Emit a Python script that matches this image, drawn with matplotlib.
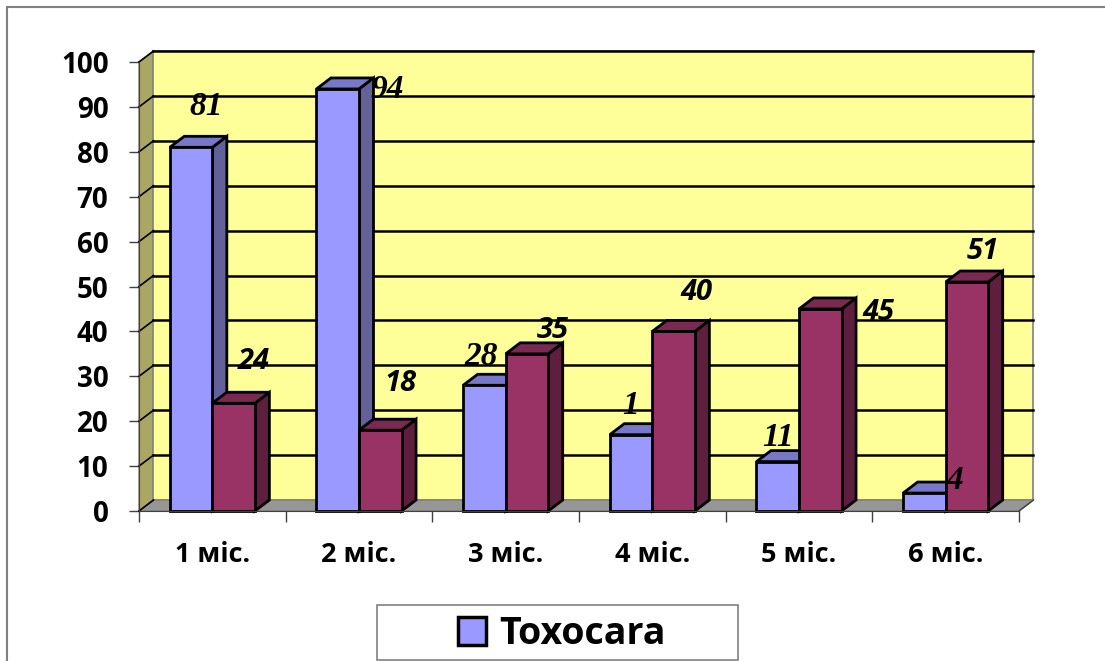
import matplotlib
matplotlib.use('Agg')
import matplotlib.pyplot as plt
from matplotlib.patches import Polygon, Rectangle, Patch
import numpy as np

categories = ['1 міс.', '2 міс.', '3 міс.', '4 міс.', '5 міс.', '6 міс.']
toxocara = [81, 94, 28, 17, 11, 4]
series2 = [24, 18, 35, 40, 45, 51]
toxocara_labels = ['81', '94', '28', '1', '11', '4']
series2_labels = ['24', '18', '35', '40', '45', '51']

# where excel put the data labels (x from category start, y from bar value)
tox_lab_dx = [0.46, 0.69, 0.33, 0.35, 0.36, 0.56]
tox_lab_dy = [9.0, -0.2, 6.3, 6.6, 5.3, 2.9]
s2_lab_dx = [0.78, 0.78, 0.82, 0.80, 1.04, 0.75]
s2_lab_dy = [9.2, 10.5, 5.3, 8.6, -0.7, 6.7]

SANS = 'Open Sans'

W, H = 1105, 661
fig = plt.figure(figsize=(W / 100, H / 100), dpi=100)
ax = fig.add_axes([139 / W, 1 - 511 / H, 880 / W, 449 / H])
ax.set_xlim(0, 6)
ax.set_ylim(0, 100)
ax.patch.set_visible(False)

# depth of the 3d box in data units
dx = 14.5 / 146.67
dy = 11 / 4.49
n = len(categories)

# walls and floor
ax.add_patch(Polygon([(0, 0), (dx, dy), (dx, 100 + dy), (0, 100)], closed=True,
                     facecolor='#AAA664', edgecolor='#808080', lw=1, clip_on=False, zorder=1))
ax.add_patch(Rectangle((dx, dy), n, 100, facecolor='#FFFF99', edgecolor='#808080',
                       lw=1.2, clip_on=False, zorder=1))
ax.add_patch(Polygon([(0, 0), (n, 0), (n + dx, dy), (dx, dy)], closed=True,
                     facecolor='#969696', edgecolor='#808080', lw=1, clip_on=False, zorder=1))
for v in range(10, 101, 10):
    ax.plot([dx, n + dx], [v + dy, v + dy], color='black', lw=1.8, clip_on=False, zorder=2)
for v in range(0, 101, 10):
    ax.plot([0, dx], [v, v + dy], color='black', lw=1.2, clip_on=False, zorder=2)


def bar3d(x0, w, h, front, top, side):
    kw = dict(closed=True, edgecolor='black', lw=2, clip_on=False, zorder=3, joinstyle='miter')
    ax.add_patch(Polygon([(x0 + w, 0), (x0 + w + dx, dy), (x0 + w + dx, h + dy), (x0 + w, h)],
                         facecolor=side, **kw))
    ax.add_patch(Polygon([(x0, h), (x0 + dx, h + dy), (x0 + w + dx, h + dy), (x0 + w, h)],
                         facecolor=top, **kw))
    ax.add_patch(Rectangle((x0, 0), w, h, facecolor=front, edgecolor='black', lw=2,
                           clip_on=False, zorder=3))


bw = 0.29
for i in range(n):
    start = i + 0.5 - bw
    bar3d(start, bw, toxocara[i], '#9999FF', '#7878C8', '#626299')
    bar3d(start + bw, bw, series2[i], '#993366', '#7A2951', '#5E1F3F')

for i in range(n):
    ax.text(i + tox_lab_dx[i], toxocara[i] + tox_lab_dy[i], toxocara_labels[i],
            family='Liberation Serif', style='italic', weight='bold', fontsize=24,
            ha='center', va='center', zorder=5)
    ax.text(i + s2_lab_dx[i], series2[i] + s2_lab_dy[i], series2_labels[i],
            family=SANS, style='italic', weight='bold', fontsize=21,
            ha='center', va='center', zorder=5)

# axes
for s in ['top', 'right']:
    ax.spines[s].set_visible(False)
ax.spines['left'].set_color('#404040')
ax.spines['bottom'].set_color('#404040')
ax.spines['left'].set_zorder(4)
ax.spines['bottom'].set_zorder(4)
ax.set_yticks(np.arange(0, 101, 10))
ax.set_xticks(np.arange(0, n + 1))
ax.set_xticklabels([])
ax.set_xticks(np.arange(n) + 0.5, minor=True)
ax.set_xticklabels(categories, minor=True)
ax.tick_params(axis='y', length=7, width=1, color='#404040', pad=15,
               labelsize=20)
ax.tick_params(axis='x', which='major', length=8, width=1, color='#404040')
ax.tick_params(axis='x', which='minor', length=0, pad=22, labelsize=19.5)
for lab in ax.get_yticklabels() + ax.get_xticklabels(minor=True):
    lab.set_fontfamily(SANS)
    lab.set_fontweight('bold')
ax.plot([n, n + dx], [0, dy], color='#404040', lw=1, clip_on=False, zorder=4)

# chart border
fig.add_artist(Rectangle((6.5 / W, -0.2), 1.2, 1.2 - 6.5 / H, transform=fig.transFigure,
                         fill=False, edgecolor='#808080', lw=1.5))

# legend box
fig.add_artist(Rectangle((377 / W, 1 - 660 / H), 361 / W, 55 / H, transform=fig.transFigure,
                         facecolor='white', edgecolor='#808080', lw=1.2))
fig.legend(handles=[Patch(facecolor='#9999FF', edgecolor='black', lw=2.5)], labels=['Toxocara'],
           loc='center', bbox_to_anchor=(562 / W, 1 - 634 / H), frameon=False,
           prop={'family': SANS, 'weight': 'bold', 'size': 27},
           handlelength=0.75, handleheight=0.75, handletextpad=0.35)

fig.savefig('out.png', dpi=100)
